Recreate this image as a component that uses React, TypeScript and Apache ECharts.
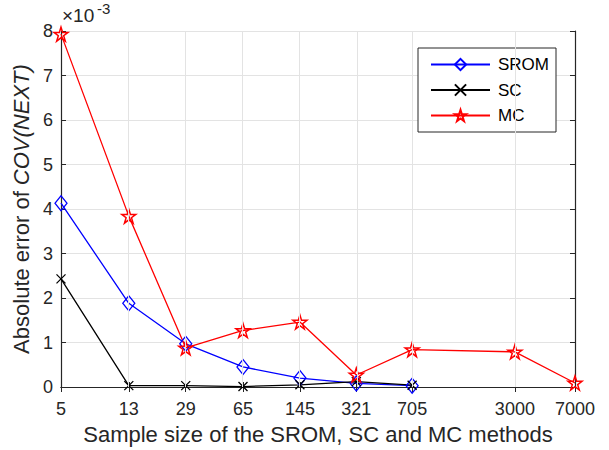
import React, { useEffect, useRef } from "react";
import * as echarts from "echarts";

const tickSizes = [5, 13, 29, 65, 145, 321, 705, 3000, 7000];
const sromSizes = [5, 13, 29, 65, 145, 321, 705];
const sromError = [4.13, 1.88, 0.97, 0.45, 0.2, 0.08, 0.03];
const scSizes = [5, 13, 29, 65, 145, 321, 705];
const scError = [2.43, 0.03, 0.03, 0.01, 0.05, 0.12, 0.04];
const mcSizes = [5, 13, 29, 65, 145, 321, 705, 3000, 7000];
const mcError = [7.93, 3.84, 0.88, 1.27, 1.46, 0.27, 0.84, 0.79, 0.09];
const yTicks = [0, 1, 2, 3, 4, 5, 6, 7, 8];

const FONT = "Liberation Sans";
const AXIS = "#262626";
const STAR =
  "path://M50,0L61.2,34.5L97.6,34.5L68.2,55.9L79.4,90.5L50,69.1L20.6,90.5L31.8,55.9L2.4,34.5L38.8,34.5Z";
const CROSS = "path://M0,0L10,10M10,0L0,10";

const toPts = (sizes: number[], vals: number[]) =>
  sizes.map((n, i) => [Math.log10(n), vals[i]]);

export default function App() {
  const ref = useRef<HTMLDivElement>(null);
  useEffect(() => {
    document.body.style.margin = "0";
    const chart = echarts.init(ref.current!, null, { renderer: "svg" });
    const xMin = Math.log10(tickSizes[0]);
    const xMax = Math.log10(tickSizes[tickSizes.length - 1]);
    const tickVals = tickSizes.map((n) => Math.log10(n));
    chart.setOption({
      animation: false,
      backgroundColor: "#ffffff",
      textStyle: { fontFamily: FONT },
      grid: { left: 61, right: 34, top: 31, bottom: 62 },
      legend: {
        left: 418,
        top: 48,
        orient: "vertical",
        backgroundColor: "#ffffff",
        borderColor: AXIS,
        borderWidth: 1,
        borderRadius: 0,
        padding: [8, 7, 8, 12],
        itemWidth: 59,
        itemHeight: 14,
        itemGap: 8.5,
        textStyle: { fontFamily: FONT, fontSize: 17, color: "#000", padding: [0, 0, 0, 3] },
        data: ["SROM", "SC", "MC"],
      },
      xAxis: [
        {
          type: "value",
          min: xMin,
          max: xMax,
          position: "bottom",
          axisLine: { lineStyle: { color: AXIS, width: 1.2 } },
          axisTick: { show: true, inside: true, length: 5, customValues: tickVals, lineStyle: { color: AXIS } },
          axisLabel: {
            customValues: tickVals,
            formatter: (v: number) => String(Math.round(Math.pow(10, v))),
            fontFamily: FONT,
            fontSize: 18,
            color: AXIS,
            margin: 13,
          },
          splitLine: { show: false },
          name: "Sample size of the SROM, SC and MC methods",
          nameLocation: "middle",
          nameGap: 36,
          nameTextStyle: { fontFamily: FONT, fontSize: 22, color: AXIS },
        },
        {
          type: "value",
          min: xMin,
          max: xMax,
          position: "top",
          axisLine: { lineStyle: { color: AXIS, width: 1.2 } },
          axisTick: { show: true, inside: true, length: 5, customValues: tickVals, lineStyle: { color: AXIS } },
          axisLabel: { show: false },
          splitLine: { show: false },
        },
      ],
      yAxis: [
        {
          type: "value",
          min: 0,
          max: 8,
          interval: 1,
          position: "left",
          axisLine: { show: true, lineStyle: { color: AXIS, width: 1.2 } },
          axisTick: { show: true, inside: true, length: 5, lineStyle: { color: AXIS } },
          axisLabel: {
            formatter: (v: number) => (yTicks.includes(v) ? String(v) : ""),
            fontFamily: FONT,
            fontSize: 18,
            color: AXIS,
            margin: 8,
          },
          splitLine: { show: true, lineStyle: { color: "#e3e3e3", width: 1 } },
          name: "{a|Absolute error of }{b|COV(NEXT)}",
          nameLocation: "middle",
          nameGap: 25,
          nameTextStyle: {
            fontFamily: FONT,
            fontSize: 22,
            color: AXIS,
            rich: {
              a: { fontFamily: FONT, fontSize: 22, color: AXIS },
              b: { fontFamily: FONT, fontSize: 22, color: AXIS, fontStyle: "italic" },
            },
          },
        },
        {
          type: "value",
          min: 0,
          max: 8,
          interval: 1,
          position: "right",
          axisLine: { show: true, lineStyle: { color: AXIS, width: 1.2 } },
          axisTick: { show: true, inside: true, length: 5, lineStyle: { color: AXIS } },
          axisLabel: { show: false },
          splitLine: { show: false },
        },
      ],
      graphic: [
        {
          type: "text",
          left: 62,
          top: 6,
          style: { text: "×10", fontFamily: FONT, fontSize: 19, fill: AXIS },
        },
        {
          type: "text",
          left: 97,
          top: 1,
          style: { text: "-3", fontFamily: FONT, fontSize: 15, fill: AXIS },
        },
      ],
      series: [
        {
          name: "grid",
          type: "line",
          data: [],
          z: 1,
          silent: true,
          markLine: {
            silent: true,
            symbol: "none",
            label: { show: false },
            lineStyle: { color: "#e3e3e3", width: 1, type: "solid" },
            data: tickVals.slice(1, -1).map((v) => ({ xAxis: v })),
          },
        },
        {
          name: "SROM",
          type: "line",
          z: 3,
          data: toPts(sromSizes, sromError),
          symbol: "diamond",
          symbolSize: [12, 15],
          lineStyle: { color: "#0000ff", width: 1.3 },
          itemStyle: { color: "rgba(0,0,0,0)", borderColor: "#0000ff", borderWidth: 1.3 },
        },
        {
          name: "SC",
          type: "line",
          z: 3,
          data: toPts(scSizes, scError),
          symbol: CROSS,
          symbolSize: 9,
          lineStyle: { color: "#000000", width: 1.3 },
          itemStyle: { color: "rgba(0,0,0,0)", borderColor: "#000000", borderWidth: 1.3 },
        },
        {
          name: "MC",
          type: "line",
          z: 3,
          data: toPts(mcSizes, mcError),
          symbol: STAR,
          symbolSize: 14,
          lineStyle: { color: "#ff0000", width: 1.3 },
          itemStyle: { color: "rgba(0,0,0,0)", borderColor: "#ff0000", borderWidth: 1.5 },
        },
      ],
    });
    return () => chart.dispose();
  }, []);
  return <div ref={ref} style={{ width: 609, height: 450 }} />;
}
